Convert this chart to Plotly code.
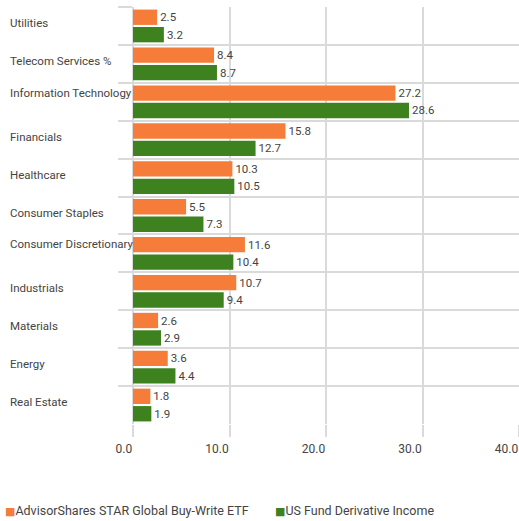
import plotly.graph_objects as go

categories = ["Utilities", "Telecom Services %", "Information Technology", "Financials",
              "Healthcare", "Consumer Staples", "Consumer Discretionary", "Industrials",
              "Materials", "Energy", "Real Estate"]
star_etf = [2.5, 8.4, 27.2, 15.8, 10.3, 5.5, 11.6, 10.7, 2.6, 3.6, 1.8]
fund_income = [3.2, 8.7, 28.6, 12.7, 10.5, 7.3, 10.4, 9.4, 2.9, 4.4, 1.9]
series_names = ["AdvisorShares STAR Global Buy-Write ETF", "US Fund Derivative Income"]
x_ticks = [0, 10, 20, 30, 40]

ORANGE = "#F57C39"
GREEN = "#3D821F"
GRID = "#DADADA"
TEXT = "#444444"
FONT = "Roboto, sans-serif"
FS = 11.5

W, H = 519, 521
ML, MR, MT, MB = 133, 0, 7, 97
PW = W - ML - MR
PH = H - MT - MB

fig = go.Figure()
for name, vals, col in [(series_names[0], star_etf, ORANGE), (series_names[1], fund_income, GREEN)]:
    fig.add_trace(go.Bar(
        y=categories, x=vals, name=name, orientation="h",
        marker=dict(color=col, line=dict(width=0)),
        texttemplate="%{x:.1f}", textposition="outside",
        textfont=dict(family=FONT, size=FS, color=TEXT),
        constraintext="none", cliponaxis=False, showlegend=False,
        hoverinfo="skip",
    ))

annotations = []
for cat in categories:
    shift = 9 if len(cat) > 20 else 3
    annotations.append(dict(
        text=cat, xref="paper", yref="y", x=(8 - ML) / PW, y=cat,
        xanchor="left", yanchor="middle", yshift=shift, showarrow=False,
        font=dict(family=FONT, size=FS, color=TEXT),
    ))

legend_y = (MT + PH - 510) / PH
for name, col, px in [(series_names[0], ORANGE, 3), (series_names[1], GREEN, 273)]:
    annotations.append(dict(
        text=f"<span style='color:{col}; font-family:DejaVu Sans; font-size:11px'>■</span>{name}",
        xref="paper", yref="paper", x=(px - ML) / PW, y=legend_y,
        xanchor="left", yanchor="middle", showarrow=False,
        font=dict(family=FONT, size=12.5, color=TEXT),
    ))

fig.update_layout(
    width=W, height=H,
    margin=dict(l=ML, r=MR, t=MT, b=MB, pad=0),
    paper_bgcolor="white", plot_bgcolor="white",
    barmode="group", bargap=0.08, bargroupgap=0.12,
    showlegend=False,
    annotations=annotations,
    font=dict(family=FONT, size=FS, color=TEXT),
)
fig.update_xaxes(
    range=[0, 40], tickvals=x_ticks, tickformat=".1f",
    showgrid=True, gridcolor=GRID, gridwidth=1.5,
    zeroline=True, zerolinecolor=GRID, zerolinewidth=1.5,
    showline=False,
    ticks="outside", ticklen=12, tickcolor=GRID, tickwidth=1.5,
    ticklabelposition="outside left", ticklabelstandoff=14,
    tickfont=dict(family=FONT, size=12, color=TEXT),
    automargin=False, fixedrange=True,
)
fig.update_yaxes(
    type="category", autorange="reversed",
    tickson="boundaries", ticks="outside", ticklen=14, tickcolor=GRID, tickwidth=1.5,
    showgrid=True, gridcolor=GRID, gridwidth=1.5,
    showticklabels=False, showline=False, zeroline=False,
    automargin=False, fixedrange=True,
)

fig.write_html("out.html", config={"displayModeBar": False},
               post_script="document.body.style.margin='0';document.body.style.padding='0';")
